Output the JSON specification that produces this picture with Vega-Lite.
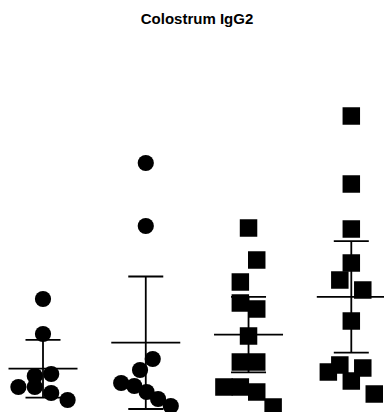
{
  "$schema": "https://vega.github.io/schema/vega-lite/v6.json",
  "autosize": {"type": "none"},
  "padding": {"top": 30, "left": 0, "right": 0, "bottom": 0},
  "width": 384,
  "height": 382,
  "background": "white",
  "title": {
    "text": "Colostrum IgG2",
    "font": "Liberation Sans",
    "fontSize": 15,
    "fontWeight": "bold",
    "color": "black",
    "anchor": "middle",
    "baseline": "alphabetic",
    "offset": 8,
    "dx": 5,
    "dy": 17
  },
  "config": {"view": {"stroke": null}},
  "datasets": {
    "points": [
      {"group": "Group 1", "cohort": "I", "slot": 0, "igg2": 11.3},
      {"group": "Group 1", "cohort": "I", "slot": 0, "igg2": 7.8},
      {"group": "Group 1", "cohort": "I", "slot": 1, "igg2": 3.8},
      {"group": "Group 1", "cohort": "I", "slot": -1, "igg2": 3.6},
      {"group": "Group 1", "cohort": "I", "slot": -3, "igg2": 2.5},
      {"group": "Group 1", "cohort": "I", "slot": -1, "igg2": 2.5},
      {"group": "Group 1", "cohort": "I", "slot": 1, "igg2": 1.9},
      {"group": "Group 1", "cohort": "I", "slot": 3, "igg2": 1.2},
      {"group": "Group 2", "cohort": "I", "slot": 0, "igg2": 24.9},
      {"group": "Group 2", "cohort": "I", "slot": 0, "igg2": 18.6},
      {"group": "Group 2", "cohort": "I", "slot": 0.85, "igg2": 5.3},
      {"group": "Group 2", "cohort": "I", "slot": -0.7, "igg2": 4.2},
      {"group": "Group 2", "cohort": "I", "slot": -3, "igg2": 2.9},
      {"group": "Group 2", "cohort": "I", "slot": -1.4, "igg2": 2.6},
      {"group": "Group 2", "cohort": "I", "slot": 0.1, "igg2": 2.0},
      {"group": "Group 2", "cohort": "I", "slot": 1.5, "igg2": 1.3},
      {"group": "Group 2", "cohort": "I", "slot": 3.05, "igg2": 0.6},
      {"group": "Group 3", "cohort": "II", "slot": 0, "igg2": 18.4},
      {"group": "Group 3", "cohort": "II", "slot": 1, "igg2": 15.2},
      {"group": "Group 3", "cohort": "II", "slot": -1, "igg2": 13.0},
      {"group": "Group 3", "cohort": "II", "slot": -1, "igg2": 10.9},
      {"group": "Group 3", "cohort": "II", "slot": 1, "igg2": 10.3},
      {"group": "Group 3", "cohort": "II", "slot": 0, "igg2": 7.6},
      {"group": "Group 3", "cohort": "II", "slot": -1, "igg2": 5.0},
      {"group": "Group 3", "cohort": "II", "slot": 1, "igg2": 5.0},
      {"group": "Group 3", "cohort": "II", "slot": -3, "igg2": 2.5},
      {"group": "Group 3", "cohort": "II", "slot": -1, "igg2": 2.5},
      {"group": "Group 3", "cohort": "II", "slot": 1, "igg2": 2.0},
      {"group": "Group 3", "cohort": "II", "slot": 3, "igg2": 0.5},
      {"group": "Group 4", "cohort": "II", "slot": 0, "igg2": 29.6},
      {"group": "Group 4", "cohort": "II", "slot": 0, "igg2": 22.8},
      {"group": "Group 4", "cohort": "II", "slot": 0, "igg2": 18.3},
      {"group": "Group 4", "cohort": "II", "slot": 0, "igg2": 14.9},
      {"group": "Group 4", "cohort": "II", "slot": -1.4, "igg2": 13.2},
      {"group": "Group 4", "cohort": "II", "slot": 1.4, "igg2": 12.2},
      {"group": "Group 4", "cohort": "II", "slot": 0, "igg2": 9.1},
      {"group": "Group 4", "cohort": "II", "slot": -1.4, "igg2": 4.7},
      {"group": "Group 4", "cohort": "II", "slot": 1.4, "igg2": 4.4},
      {"group": "Group 4", "cohort": "II", "slot": -2.8, "igg2": 4.0},
      {"group": "Group 4", "cohort": "II", "slot": 0, "igg2": 3.1},
      {"group": "Group 4", "cohort": "II", "slot": 2.8, "igg2": 1.8}
    ],
    "summary": [
      {"group": "Group 1", "mean": 4.33, "lo": 1.44, "hi": 7.21},
      {"group": "Group 2", "mean": 6.93, "lo": 0.30, "hi": 13.55},
      {"group": "Group 3", "mean": 7.74, "lo": 3.97, "hi": 11.51},
      {"group": "Group 4", "mean": 11.51, "lo": 5.93, "hi": 17.09}
    ]
  },
  "encoding": {
    "x": {
      "field": "group",
      "type": "nominal",
      "scale": {"type": "point", "domain": ["Group 1", "Group 2", "Group 3", "Group 4"], "range": [43, 351.3], "padding": 0},
      "axis": null
    }
  },
  "layer": [
    {
      "data": {"name": "points"},
      "mark": {"type": "point", "filled": true, "opacity": 1, "color": "black", "strokeWidth": 0},
      "encoding": {
        "xOffset": {"field": "slot", "type": "quantitative", "scale": {"domain": [-3, 3], "range": [-24.6, 24.6]}},
        "y": {"field": "igg2", "type": "quantitative", "scale": {"domain": [0, 38.2], "nice": false, "zero": false}, "axis": null},
        "shape": {"field": "cohort", "type": "nominal", "scale": {"domain": ["I", "II"], "range": ["circle", "square"]}, "legend": null},
        "size": {"field": "cohort", "type": "nominal", "scale": {"domain": ["I", "II"], "range": [262, 306]}, "legend": null}
      }
    },
    {
      "data": {"name": "summary"},
      "mark": {"type": "rule", "color": "black", "strokeWidth": 1.8},
      "encoding": {
        "y": {"field": "lo", "type": "quantitative", "scale": {"domain": [0, 38.2], "nice": false, "zero": false}, "axis": null},
        "y2": {"field": "hi"}
      }
    },
    {
      "data": {"name": "summary"},
      "mark": {"type": "tick", "orient": "horizontal", "color": "black", "size": 69, "thickness": 1.8, "opacity": 1},
      "encoding": {
        "y": {"field": "mean", "type": "quantitative", "scale": {"domain": [0, 38.2], "nice": false, "zero": false}, "axis": null}
      }
    },
    {
      "data": {"name": "summary"},
      "mark": {"type": "tick", "orient": "horizontal", "color": "black", "size": 35, "thickness": 1.8, "opacity": 1},
      "encoding": {
        "y": {"field": "hi", "type": "quantitative", "scale": {"domain": [0, 38.2], "nice": false, "zero": false}, "axis": null}
      }
    },
    {
      "data": {"name": "summary"},
      "mark": {"type": "tick", "orient": "horizontal", "color": "black", "size": 35, "thickness": 1.8, "opacity": 1},
      "encoding": {
        "y": {"field": "lo", "type": "quantitative", "scale": {"domain": [0, 38.2], "nice": false, "zero": false}, "axis": null}
      }
    }
  ]
}
